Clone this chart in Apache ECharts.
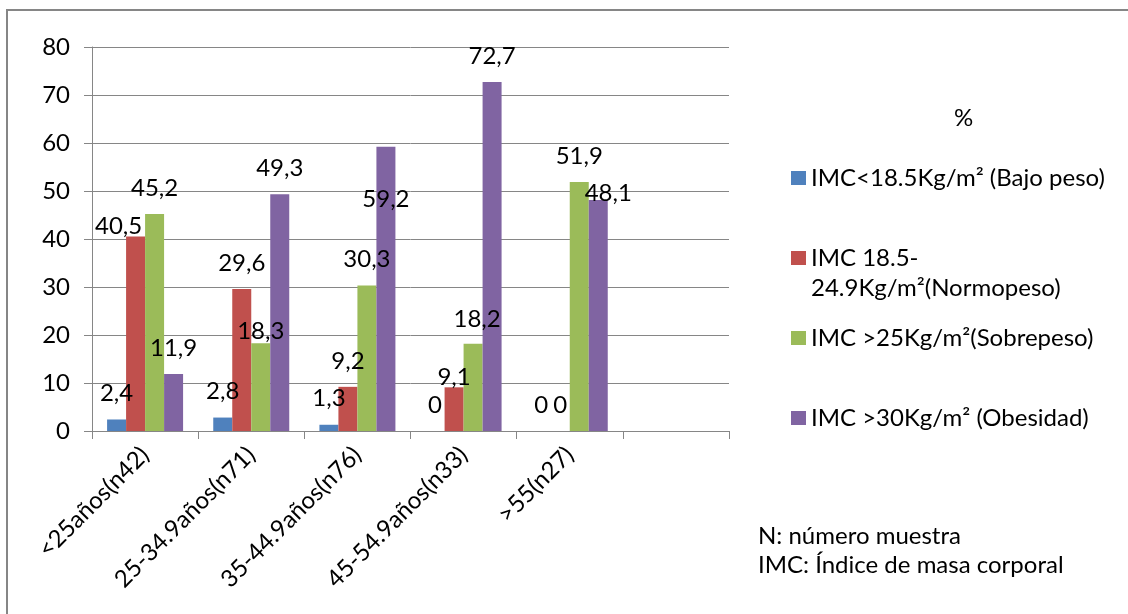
<!DOCTYPE html>
<html>
<head>
    <meta charset="utf-8">
    <title>IMC por edad</title>
    <script src="https://cdn.jsdelivr.net/npm/echarts@6/dist/echarts.min.js"></script>
    <style>
        html, body { margin: 0; padding: 0; background: #fff; }
    </style>
</head>
<body>
    <div id="chart" style="width: 1128px; height: 614px;"></div>
    <script type="text/javascript">
        // ---- datos ----
        var categorias = ['<25años(n42)', '25-34.9años(n71)', '35-44.9años(n76)', '45-54.9años(n33)', '>55(n27)', ''];
        var nombres = [
            'IMC<18.5Kg/m² (Bajo peso)',
            'IMC 18.5-\n24.9Kg/m²(Normopeso)',
            'IMC >25Kg/m²(Sobrepeso)',
            'IMC >30Kg/m² (Obesidad)'
        ];
        var bajoPeso   = [2.4, 2.8, 1.3, 0, 0, null];
        var normopeso  = [40.5, 29.6, 9.2, 9.1, 0, null];
        var sobrepeso  = [45.2, 18.3, 30.3, 18.2, 51.9, null];
        var obesidad   = [11.9, 49.3, 59.2, 72.7, 48.1, null];
        var ejeY = { min: 0, max: 80, interval: 10 };

        // colores tipo Excel 2007
        var colores = ['#4F81BD', '#C0504D', '#9BBB59', '#8064A2'];
        var gris = '#868686';
        var fuente = 'Lato';
        var tam = 24;

        // etiquetas que en el original estan movidas a mano
        var ajustes = {
            '1-0': [-17, 16],
            '2-1': [0, 14],
            '3-2': [0, 78],
            '1-3': [0, 16],
            '2-3': [4, 2],
            '3-4': [10, 19]
        };

        function serie(idx, valores) {
            return {
                name: nombres[idx],
                type: 'bar',
                barWidth: 19,
                barGap: '0%',
                itemStyle: { color: colores[idx] },
                label: {
                    show: true,
                    position: 'top',
                    distance: 14,
                    color: '#000',
                    fontFamily: fuente,
                    fontSize: tam,
                    lineHeight: 24,
                    formatter: function (p) {
                        return String(p.value).replace('.', ',');
                    }
                },
                data: valores.map(function (v, i) {
                    var d = { value: v };
                    var k = idx + '-' + i;
                    if (ajustes[k]) d.label = { offset: ajustes[k] };
                    return d;
                })
            };
        }

        // una leyenda por elemento, el original tiene separaciones irregulares
        var topLeyenda = [163, 213, 323, 403];
        var leyendas = nombres.map(function (n, i) {
            return {
                data: [n],
                orient: 'vertical',
                left: 791,
                top: topLeyenda[i],
                padding: 0,
                icon: 'rect',
                itemWidth: 15,
                itemHeight: 14,
                selectedMode: false,
                // la segunda lleva una linea vacia arriba para que el cuadro quede junto a la primera linea
                formatter: i === 1 ? function (t) { return ' \n' + t; } : '{name}',
                textStyle: {
                    fontFamily: fuente,
                    fontSize: tam,
                    lineHeight: 30,
                    color: '#000'
                }
            };
        });

        var chart = echarts.init(document.getElementById('chart'));
        var option = {
            backgroundColor: '#fff',
            animation: false,
            title: {
                text: '%',
                left: 949,
                top: 101,
                textStyle: { fontFamily: fuente, fontSize: 24, fontWeight: 'normal', color: '#000' }
            },
            legend: leyendas,
            grid: { left: 92, right: 399, top: 47, bottom: 183 },
            xAxis: {
                type: 'category',
                data: categorias,
                axisLine: { lineStyle: { color: gris, width: 1 } },
                axisTick: { show: true, length: 8, lineStyle: { color: gris } },
                axisLabel: {
                    rotate: 45,
                    interval: 0,
                    margin: 20,
                    color: '#000',
                    fontFamily: fuente,
                    fontSize: tam
                }
            },
            yAxis: {
                type: 'value',
                min: ejeY.min,
                max: ejeY.max,
                interval: ejeY.interval,
                axisLine: { show: true, lineStyle: { color: gris, width: 1 } },
                axisTick: { show: true, length: 8, lineStyle: { color: gris } },
                splitLine: { lineStyle: { color: gris, width: 1 } },
                axisLabel: {
                    margin: 22,
                    color: '#000',
                    fontFamily: fuente,
                    fontSize: tam
                }
            },
            series: [
                serie(0, bajoPeso),
                serie(1, normopeso),
                serie(2, sobrepeso),
                serie(3, obesidad)
            ],
            graphic: [
                {
                    type: 'rect',
                    shape: { x: 7, y: 10, width: 1130, height: 620 },
                    style: { fill: 'none', stroke: gris, lineWidth: 2 },
                    silent: true
                },
                {
                    type: 'text',
                    left: 758,
                    top: 522,
                    style: {
                        text: 'N: número muestra\nIMC: Índice de masa corporal',
                        font: tam + 'px ' + fuente,
                        lineHeight: 29,
                        fill: '#000'
                    }
                }
            ]
        };
        chart.setOption(option);
    </script>
</body>
</html>
